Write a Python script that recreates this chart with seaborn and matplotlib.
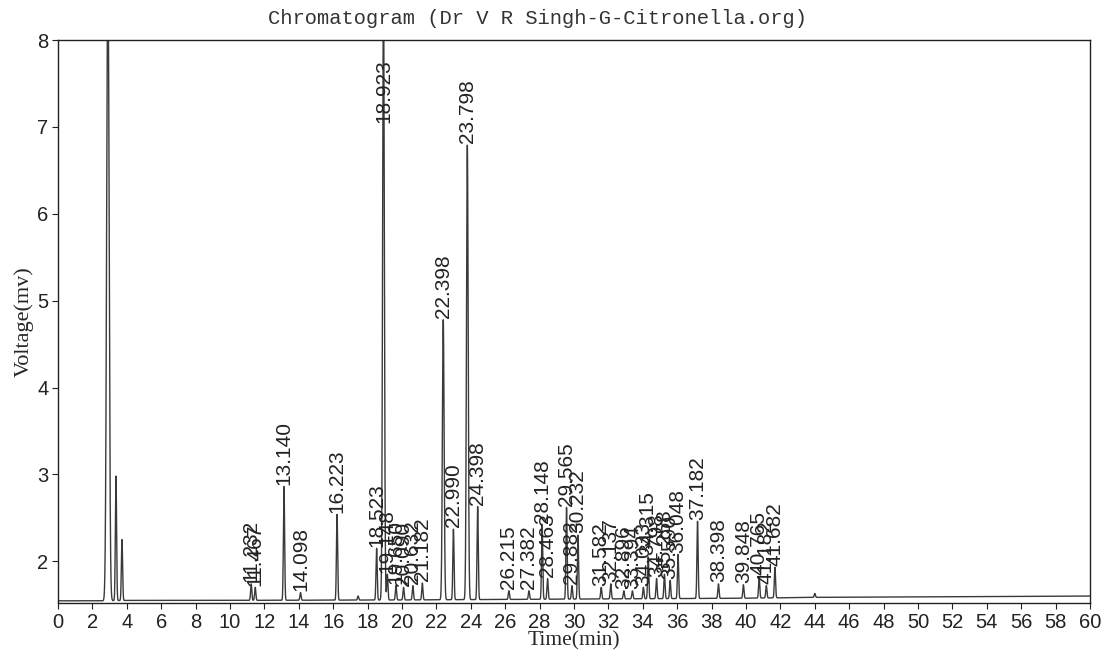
import numpy as np
import pandas as pd
import matplotlib
matplotlib.use("Agg")
import matplotlib.pyplot as plt
import seaborn as sns

# ---- data ----
# unlabelled peaks (solvent front and small bumps): retention time (min), apex voltage (mV)
solvent_t = [2.90, 3.37, 3.72, 17.45, 44.0]
solvent_v = [9.00, 2.98, 2.25, 1.60, 1.63]

# labelled peaks
peak_t = [11.232, 11.467, 13.140, 14.098, 16.223, 18.523, 18.923, 19.148, 19.650,
          20.090, 20.632, 21.182, 22.398, 22.990, 23.798, 24.398, 26.215, 27.382,
          28.148, 28.463, 29.565, 29.882, 30.232, 31.582, 32.137, 32.896, 33.394,
          34.033, 34.315, 34.798, 35.258, 35.590, 36.048, 37.182, 38.398, 39.848,
          40.765, 41.182, 41.682]
peak_v = [1.74, 1.70, 2.86, 1.64, 2.54, 2.15, 8.60, 1.85, 1.72,
          1.70, 1.72, 1.75, 4.78, 2.37, 6.79, 2.63, 1.66, 1.66,
          2.42, 1.80, 2.62, 1.72, 2.30, 1.70, 1.74, 1.66, 1.66,
          1.70, 2.05, 1.80, 1.85, 1.78, 2.08, 2.46, 1.74, 1.73,
          1.82, 1.72, 1.93]
peak_labels = ["11.232", "11.467", "13.140", "14.098", "16.223", "18.523", "18.923",
               "19.148", "19.650", "20.090", "20.632", "21.182", "22.398", "22.990",
               "23.798", "24.398", "26.215", "27.382", "28.148", "28.463", "29.565",
               "29.882", "30.232", "31.582", "32.137", "32.896", "33.394", "34.033",
               "34.315", "34.798", "35.258", "35.590", "36.048", "37.182", "38.398",
               "39.848", "40.765", "41.182", "41.682"]

# baseline drift
base_t = [0, 2.5, 4, 10, 20, 30, 40, 44, 50, 60]
base_v = [1.545, 1.545, 1.55, 1.55, 1.555, 1.565, 1.575, 1.585, 1.59, 1.60]

x_ticks = list(range(0, 61, 2))
y_ticks = [2, 3, 4, 5, 6, 7, 8]

# ---- build trace from peaks ----
t = np.linspace(0, 60, 24001)
trace = np.interp(t, base_t, base_v)
all_t = solvent_t + peak_t
all_v = solvent_v + peak_v
for pt, pv in zip(all_t, all_v):
    amp = pv - np.interp(pt, base_t, base_v)
    sig = 0.07 if pt < 3.0 else (0.05 if pv > 4 else 0.035)
    trace = trace + amp * np.exp(-0.5 * ((t - pt) / sig) ** 2)
df = pd.DataFrame({"Time(min)": t, "Voltage(mv)": trace})

# ---- plot ----
sns.set_theme(style="white")
plt.rcParams["font.family"] = ["Liberation Sans", "DejaVu Sans"]

fig = plt.figure(figsize=(11.08, 6.56), dpi=100)
ax = fig.add_axes([58 / 1108, 1 - 603 / 656, (1090 - 58) / 1108, (603 - 40) / 656])
sns.lineplot(data=df, x="Time(min)", y="Voltage(mv)", ax=ax, color="#3a3a3a",
             linewidth=1.0, estimator=None, sort=False)

ax.set_xlim(0, 60)
ax.set_ylim(1.52, 8)
ax.set_xticks(x_ticks)
ax.set_yticks(y_ticks)
ax.tick_params(axis="both", labelsize=14.5, length=4, width=0.8, direction="out",
               bottom=True, left=True, colors="#222222", pad=3)
for s in ax.spines.values():
    s.set_color("#222222")
    s.set_linewidth(1.0)

ax.set_xlabel("Time(min)", fontsize=15.5, family=["Liberation Serif"], labelpad=0)
ax.set_ylabel("Voltage(mv)", fontsize=16, family=["Liberation Serif"], labelpad=2)

for pt, pv, lab in zip(peak_t, peak_v, peak_labels):
    ax.text(pt, min(pv, 7.03) + 0.02, lab, rotation=90, ha="center", va="bottom",
            fontsize=15, color="#222222")

fig.text(537 / 1108, 1 - 18 / 656, "Chromatogram (Dr V R Singh-G-Citronella.org)",
         ha="center", va="center", fontsize=14.8, family=["Liberation Mono"],
         color="#333333")

fig.savefig("out.png", dpi=100, facecolor="white")
